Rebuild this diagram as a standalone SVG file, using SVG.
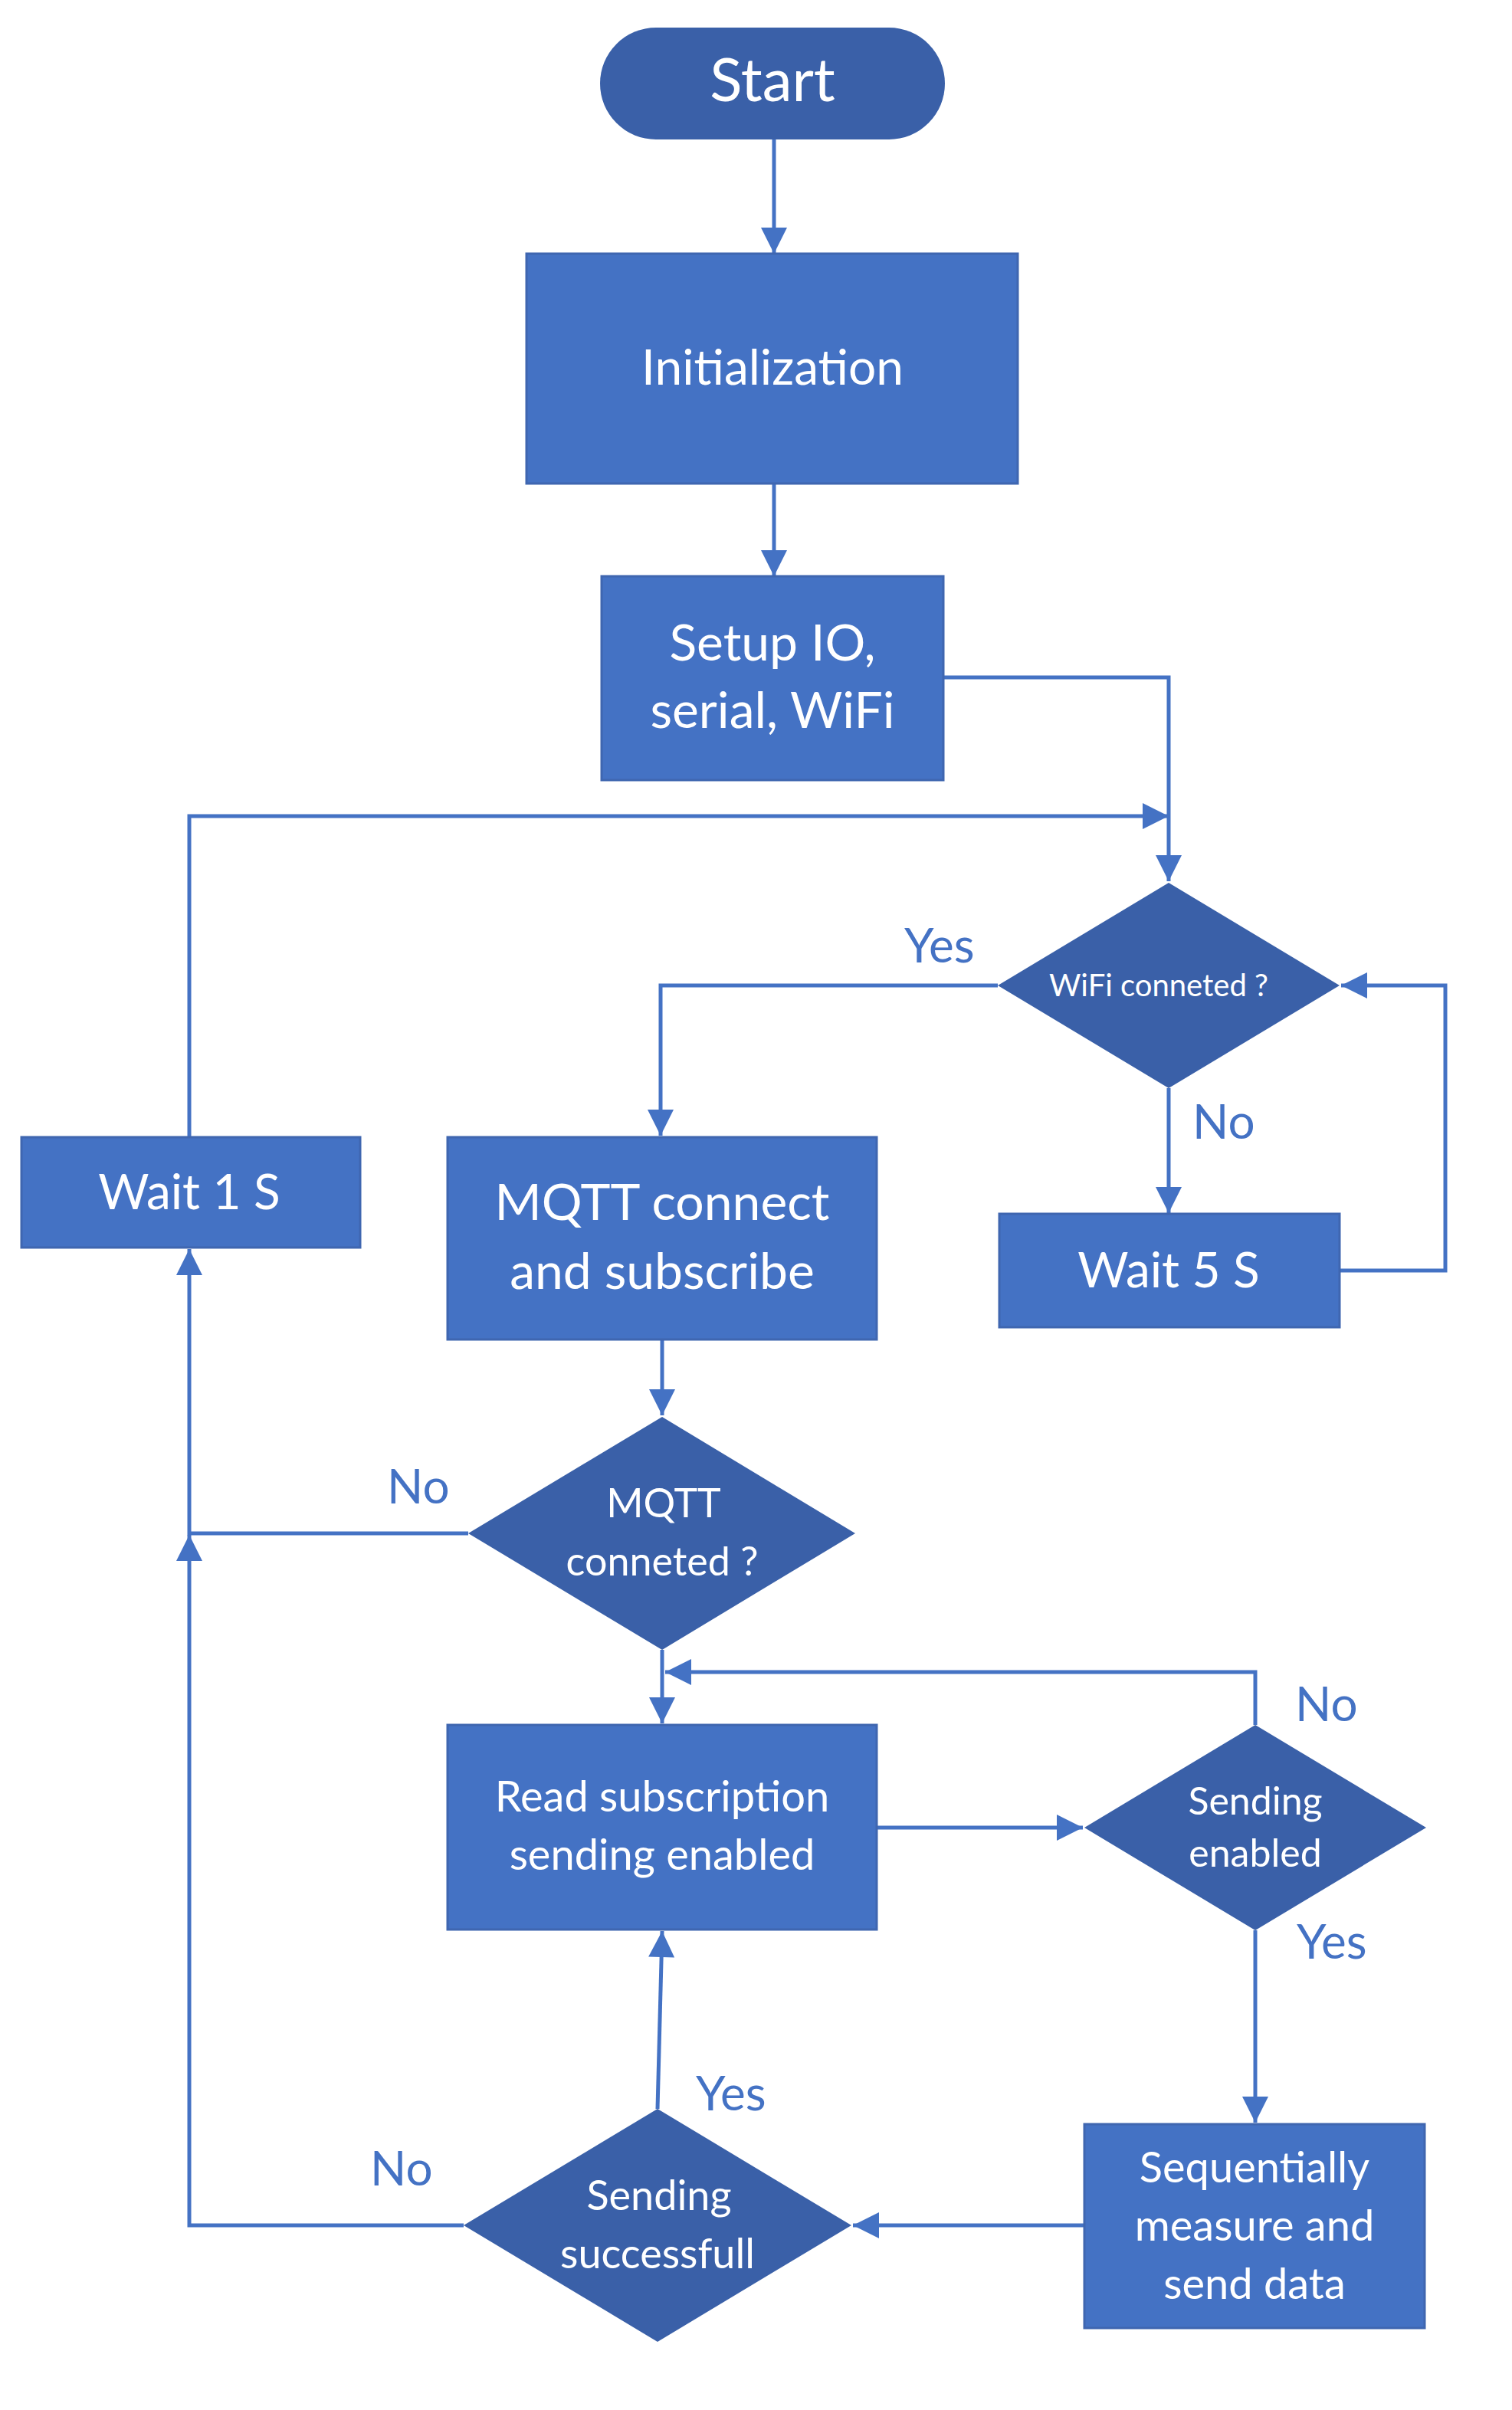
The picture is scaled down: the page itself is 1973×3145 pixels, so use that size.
<svg xmlns="http://www.w3.org/2000/svg" width="1973" height="3145" viewBox="0 0 1973 3145">
<style>
.box{fill:#4472C4;stroke:#3F66B0;stroke-width:3}
.dia{fill:#3A60A8}
.t{fill:#fff;font-family:Lato,"Liberation Sans",sans-serif;text-anchor:middle}
.lbl{fill:#4472C4;font-family:Lato,"Liberation Sans",sans-serif;font-size:62px}
.c{fill:none;stroke:#4472C4;stroke-width:5}
</style>
<defs>
<marker id="a" viewBox="0 0 10 10" refX="10" refY="5" markerWidth="38" markerHeight="34" orient="auto" markerUnits="userSpaceOnUse">
<path d="M0,0 L10,5 L0,10 z" fill="#4472C4"/>
</marker>
</defs>
<rect width="1973" height="3145" fill="#fff"/>
<g id="connectors">
<path class="c" d="M1010,182 V331" marker-end="url(#a)"/>
<path class="c" d="M1010,631 V752" marker-end="url(#a)"/>
<path class="c" d="M1231,884 H1525 V1150" marker-end="url(#a)"/>
<path class="c" d="M247,1484 V1065 H1525" marker-end="url(#a)"/>
<path class="c" d="M1302,1286 H862 V1482" marker-end="url(#a)"/>
<path class="c" d="M1525,1420 V1583" marker-end="url(#a)"/>
<path class="c" d="M1748,1658 H1886 V1286 H1750" marker-end="url(#a)"/>
<path class="c" d="M864,1748 V1847" marker-end="url(#a)"/>
<path class="c" d="M611,2001 H247 V1630" marker-end="url(#a)"/>
<path class="c" d="M864,2153 V2249" marker-end="url(#a)"/>
<path class="c" d="M1144,2385 H1413" marker-end="url(#a)"/>
<path class="c" d="M1638,2251 V2182 H868" marker-end="url(#a)"/>
<path class="c" d="M1638,2519 V2770" marker-end="url(#a)"/>
<path class="c" d="M1415,2904 H1113" marker-end="url(#a)"/>
<path class="c" d="M858,2752 L864,2520" marker-end="url(#a)"/>
<path class="c" d="M605,2904 H247 V2003" marker-end="url(#a)"/>
</g>
<g id="start"><rect class="dia" x="783" y="36" width="450" height="146" rx="73"/><text class="t" x="1008" y="132" font-size="78">Start</text></g>
<g id="init"><rect class="box" x="687" y="331" width="641" height="300"/><text class="t" x="1008" y="502" font-size="64">Initialization</text></g>
<g id="setup"><rect class="box" x="785" y="752" width="446" height="266"/><text class="t" x="1008" y="862" font-size="66">Setup IO,</text><text class="t" x="1008" y="950" font-size="66">serial, WiFi</text></g>
<g id="wifi"><polygon class="dia" points="1525,1152 1748,1286 1525,1420 1302,1286"/><text class="t" x="1512" y="1300" font-size="40">WiFi conneted ?</text></g>
<g id="wait5"><rect class="box" x="1304" y="1584" width="444" height="148"/><text class="t" x="1525" y="1680" font-size="64">Wait 5 S</text></g>
<g id="wait1"><rect class="box" x="28" y="1484" width="442" height="144"/><text class="t" x="247" y="1578" font-size="64">Wait 1 S</text></g>
<g id="mqttc"><rect class="box" x="584" y="1484" width="560" height="264"/><text class="t" x="864" y="1592" font-size="66">MQTT connect</text><text class="t" x="864" y="1682" font-size="66">and subscribe</text></g>
<g id="mqttq"><polygon class="dia" points="864,1849 1116,2001 864,2153 611,2001"/><text class="t" x="866" y="1980" font-size="52">MQTT</text><text class="t" x="864" y="2056" font-size="52">conneted ?</text></g>
<g id="read"><rect class="box" x="584" y="2251" width="560" height="267"/><text class="t" x="864" y="2364" font-size="56">Read subscription</text><text class="t" x="864" y="2440" font-size="56">sending enabled</text></g>
<g id="sendq"><polygon class="dia" points="1638,2251 1861,2385 1638,2519 1415,2385"/><text class="t" x="1638" y="2368" font-size="50">Sending</text><text class="t" x="1638" y="2436" font-size="50">enabled</text></g>
<g id="seq"><rect class="box" x="1415" y="2772" width="444" height="266"/><text class="t" x="1637" y="2848" font-size="56">Sequentially</text><text class="t" x="1637" y="2924" font-size="56">measure and</text><text class="t" x="1637" y="3000" font-size="56">send data</text></g>
<g id="succ"><polygon class="dia" points="858,2752 1111,2904 858,3056 605,2904"/><text class="t" x="860" y="2884" font-size="54">Sending</text><text class="t" x="858" y="2960" font-size="54">successfull</text></g>
<g id="labels">
<text class="lbl" x="1180" y="1256">Yes</text>
<text class="lbl" x="1556" y="1486">No</text>
<text class="lbl" x="505" y="1962">No</text>
<text class="lbl" x="1690" y="2246">No</text>
<text class="lbl" x="1692" y="2556">Yes</text>
<text class="lbl" x="908" y="2754">Yes</text>
<text class="lbl" x="483" y="2852">No</text>
</g>
</svg>
